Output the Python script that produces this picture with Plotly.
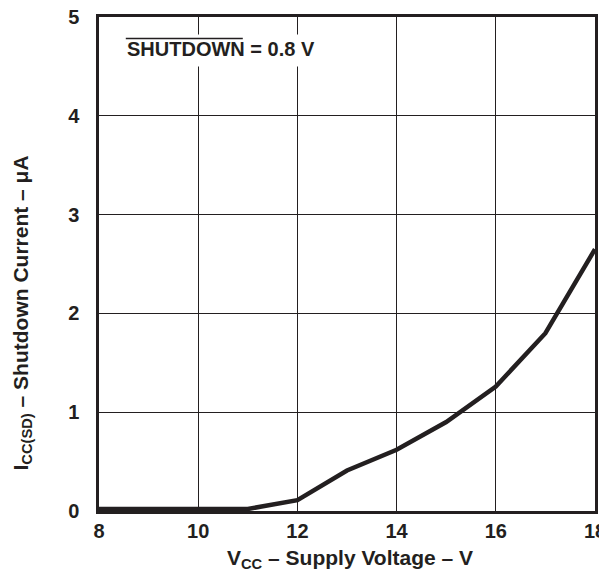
import plotly.graph_objects as go

# Data
supply_voltage = [8, 9, 10, 11, 12, 13, 14, 15, 16, 17, 18]
shutdown_current = [0.02, 0.02, 0.02, 0.02, 0.11, 0.41, 0.62, 0.90, 1.26, 1.80, 2.65]

x_ticks = [8, 10, 12, 14, 16, 18]
y_ticks = [0, 1, 2, 3, 4, 5]

FONT = "Arial, Liberation Sans, Helvetica, sans-serif"
INK = "#231f20"

fig = go.Figure()
fig.add_trace(go.Scatter(
    x=supply_voltage, y=shutdown_current, mode="lines",
    line=dict(color=INK, width=4.5), showlegend=False, hoverinfo="skip",
))

axis_common = dict(
    showline=True, mirror=True, linecolor=INK, linewidth=2.5,
    showgrid=True, gridcolor=INK, gridwidth=1.2, zeroline=False,
    ticks="", tickfont=dict(family=FONT, size=20, color=INK),
    automargin=False, ticklabeloverflow="allow",
)

# page body has an 8px margin, so margins are shifted by 8px
fig.update_layout(
    width=607, height=567,
    margin=dict(l=91, r=20, t=9, b=64),
    paper_bgcolor="white", plot_bgcolor="white",
    font=dict(family=FONT, color=INK),
    xaxis=dict(range=[8, 18], tickvals=x_ticks,
               ticktext=[f"<b>{v}</b>" for v in x_ticks],
               ticklabelstandoff=0, **axis_common),
    yaxis=dict(range=[0, 5], tickvals=y_ticks,
               ticktext=[f"<b>{v}</b>" for v in y_ticks],
               ticklabelstandoff=13, **axis_common),
)

# axis titles
fig.add_annotation(
    xref="paper", yref="paper", x=0.506, y=-0.097, xanchor="center", yanchor="middle",
    text="<b>V<sub>CC</sub> – Supply Voltage – V</b>", showarrow=False,
    font=dict(family=FONT, size=21, color=INK),
)
fig.add_annotation(
    xref="paper", yref="paper", x=-0.155, y=0.40, xanchor="center", yanchor="middle",
    text="<b>I<sub>CC(SD)</sub> – Shutdown Current – μA</b>", showarrow=False,
    textangle=-90, font=dict(family=FONT, size=21, color=INK),
)

# white box behind the condition label (hides grid lines)
fig.add_shape(
    type="rect", xref="x", yref="y", xsizemode="pixel", ysizemode="pixel",
    xanchor=8.52, yanchor=4.68, x0=-12, x1=210, y0=-18, y1=14,
    fillcolor="white", line=dict(width=0), layer="above",
)
fig.add_annotation(
    x=8.52, y=4.68, xref="x", yref="y", xanchor="left", yanchor="middle",
    text="<b>SHUTDOWN = 0.8 V</b>", showarrow=False,
    font=dict(family=FONT, size=20, color=INK),
)
# overline above "SHUTDOWN"
fig.add_shape(
    type="line", xref="x", yref="y", xsizemode="pixel", ysizemode="pixel",
    xanchor=8.52, yanchor=4.68, x0=1, x1=118, y0=10, y1=10,
    line=dict(color=INK, width=1.5), layer="above",
)

fig.write_html("out.html")
